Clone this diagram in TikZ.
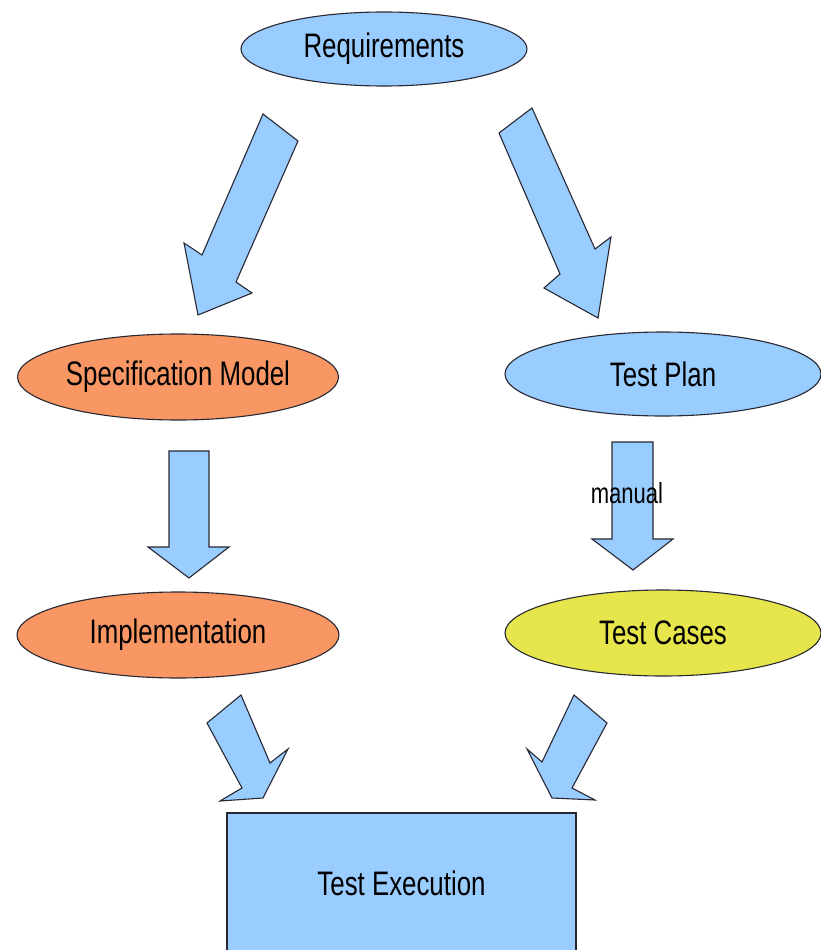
\documentclass[tikz,border=0pt]{standalone}
\usepackage{fontspec}
\setmainfont[FakeStretch=0.76]{Liberation Sans}
\usetikzlibrary{shapes.geometric}
\definecolor{lblue}{RGB}{153,204,255}
\definecolor{lorange}{RGB}{248,150,100}
\definecolor{lyellow}{RGB}{230,230,76}
\definecolor{edge}{RGB}{40,40,50}
\begin{document}
\begin{tikzpicture}[x=1pt,y=-1pt,
  oval/.style={ellipse,draw=edge,line width=1.1pt,inner sep=0pt,font=\fontsize{34}{37}\selectfont},
  blockarrow/.style={draw=edge,fill=lblue,line width=1.1pt,line join=miter},
  boxnode/.style={rectangle,draw=edge,line width=1.1pt,fill=lblue,inner sep=0pt,font=\fontsize{34}{37}\selectfont}]
\useasboundingbox (0,0) rectangle (821,950);
\node[oval,fill=lblue,minimum width=286pt,minimum height=74pt] (req) at (384,49) {Requirements};
\node[oval,fill=lorange,minimum width=321pt,minimum height=86pt] (spec) at (178,377) {Specification Model};
\node[oval,fill=lblue,minimum width=316pt,minimum height=84pt] (plan) at (663,374) {Test Plan};
\node[oval,fill=lorange,minimum width=322pt,minimum height=86pt] (impl) at (178,635) {Implementation};
\node[oval,fill=lyellow,minimum width=316pt,minimum height=86pt] (cases) at (663,633) {Test Cases};
\node[boxnode,minimum width=349pt,minimum height=140pt] (exec) at (401.5,883) {Test Execution};
% block arrows
\draw[blockarrow] (263,114) -- (298,141) -- (236,282) -- (252,293) -- (198,315) -- (184,243) -- (202,255) -- cycle;
\draw[blockarrow] (499,133) -- (532,108) -- (595,249) -- (611,237) -- (598,318) -- (544,288) -- (560,274) -- cycle;
\draw[blockarrow] (169,451) -- (209,451) -- (209,547) -- (229,547) -- (189,578) -- (148,547) -- (169,547) -- cycle;
\draw[blockarrow] (612,442) -- (653,442) -- (653,539) -- (673,539) -- (633,570) -- (592,539) -- (612,539) -- cycle;
\node[font=\fontsize{29}{32}\selectfont,inner sep=0pt] (manual) at (627,493) {manual};
\draw[blockarrow] (207,723) -- (241,695) -- (270,763) -- (288,749) -- (263,798) -- (220,801) -- (242,788) -- cycle;
\draw[blockarrow] (607,723) -- (574,695) -- (542,762) -- (527,749) -- (552,798) -- (595,800) -- (572,788) -- cycle;
\end{tikzpicture}
\end{document}
